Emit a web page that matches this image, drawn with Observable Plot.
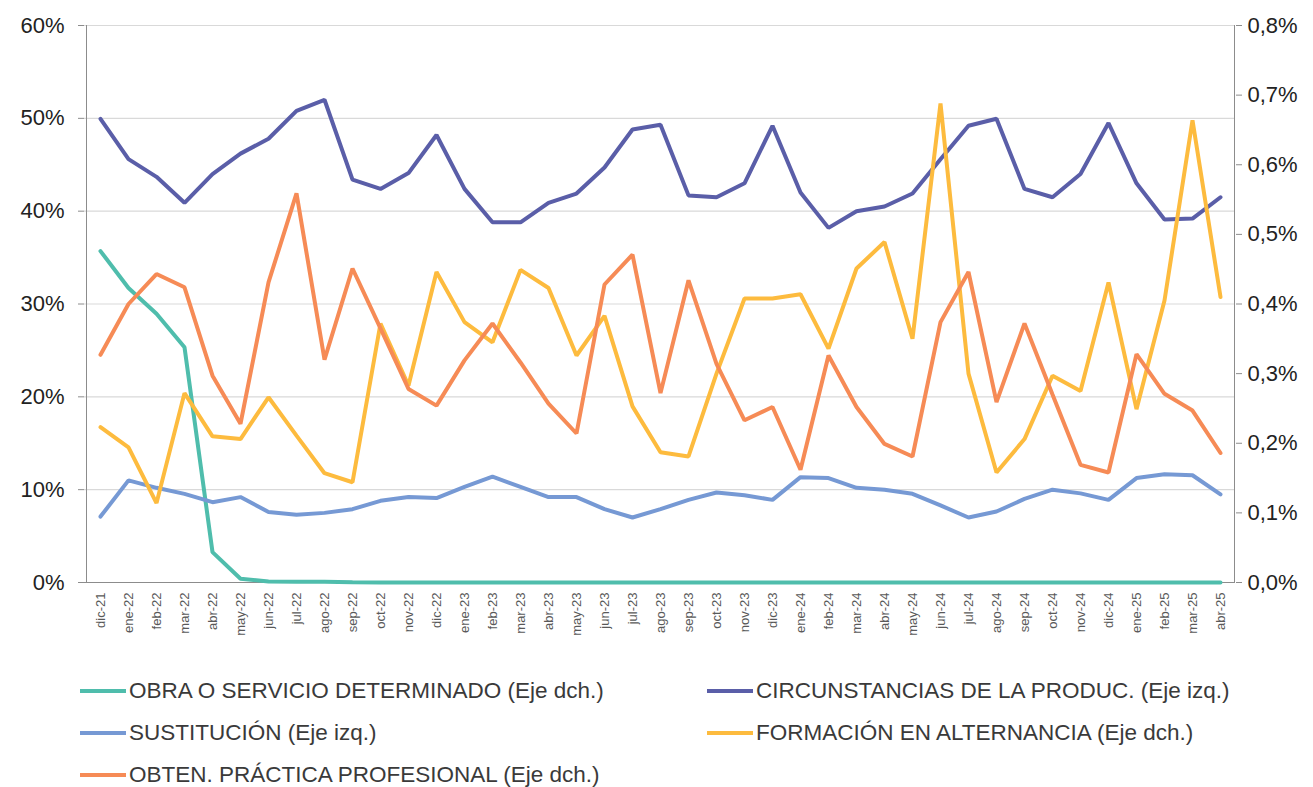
<!DOCTYPE html>
<html>
<head>
<meta charset="utf-8">
<script src="https://cdn.jsdelivr.net/npm/d3@7"></script>
<script src="https://cdn.jsdelivr.net/npm/@observablehq/plot@0.6"></script>
<style>
  body { margin: 0; background: #fff; font-family: "Liberation Sans", Arial, sans-serif; }
  #chart { width: 1313px; }
  .legend { display: grid; grid-template-columns: 627px auto; padding: 20px 0 0 80px; row-gap: 0; }
  .item { display: flex; align-items: center; height: 42px; font-family: "Liberation Sans", Arial, sans-serif; font-size: 22.5px; color: #3a3a3a; white-space: nowrap; }
  .sw { width: 46px; height: 4px; margin-right: 3px; flex: none; }
</style>
</head>
<body>
<div id="chart"></div>
<script>
const months = ["dic-21","ene-22","feb-22","mar-22","abr-22","may-22","jun-22","jul-22","ago-22","sep-22","oct-22","nov-22","dic-22",
"ene-23","feb-23","mar-23","abr-23","may-23","jun-23","jul-23","ago-23","sep-23","oct-23","nov-23","dic-23",
"ene-24","feb-24","mar-24","abr-24","may-24","jun-24","jul-24","ago-24","sep-24","oct-24","nov-24","dic-24",
"ene-25","feb-25","mar-25","abr-25"];

// Left axis (%)
const circunstancias = [49.95,45.6,43.7,40.9,44.0,46.2,47.8,50.8,52.0,43.4,42.4,44.1,48.2,
42.4,38.8,38.8,40.9,41.9,44.7,48.8,49.3,41.7,41.5,43.0,49.2,
42.0,38.2,40.0,40.5,41.9,45.6,49.2,49.95,42.4,41.5,44.0,49.5,
43.0,39.1,39.2,41.5];
const sustitucion = [7.1,11.0,10.2,9.55,8.65,9.2,7.6,7.3,7.5,7.9,8.8,9.2,9.1,
10.3,11.4,10.3,9.2,9.2,7.9,7.0,7.9,8.9,9.7,9.4,8.9,
11.35,11.25,10.2,10.0,9.55,8.3,7.0,7.65,9.0,10.0,9.6,8.9,
11.25,11.65,11.55,9.5];
// Right axis (%)
const obra = [0.476,0.423,0.386,0.338,0.0436,0.0053,0.0015,0.0012,0.001,0.0004,0,0,0,
0,0,0,0,0,0,0,0,0,0,0,0,
0,0,0,0,0,0,0,0,0,0,0,0,
0,0,0,0];
const formacion = [0.223,0.194,0.114,0.272,0.210,0.206,0.266,0.211,0.157,0.144,0.372,0.283,0.446,
0.374,0.345,0.449,0.423,0.326,0.383,0.253,0.187,0.181,0.300,0.408,0.408,
0.414,0.336,0.451,0.489,0.350,0.688,0.300,0.158,0.206,0.297,0.275,0.431,
0.249,0.405,0.664,0.410];
const practica = [0.327,0.400,0.443,0.424,0.297,0.228,0.431,0.559,0.320,0.451,0.365,0.278,0.254,
0.319,0.372,0.316,0.257,0.214,0.428,0.471,0.272,0.434,0.314,0.233,0.252,
0.162,0.326,0.252,0.199,0.181,0.374,0.446,0.259,0.372,0.270,0.169,0.158,
0.328,0.271,0.247,0.186];

const leftTicks = [0,10,20,30,40,50,60];
const rightTicks = [0,0.1,0.2,0.3,0.4,0.5,0.6,0.7,0.8];

const series = [
  {name: "OBRA O SERVICIO DETERMINADO (Eje dch.)", values: obra, axis: "right", color: "#4fbdac"},
  {name: "CIRCUNSTANCIAS DE LA PRODUC. (Eje izq.)", values: circunstancias, axis: "left", color: "#5a5ea8"},
  {name: "SUSTITUCIÓN (Eje izq.)", values: sustitucion, axis: "left", color: "#7699d4"},
  {name: "FORMACIÓN EN ALTERNANCIA (Eje dch.)", values: formacion, axis: "right", color: "#fdbb3e"},
  {name: "OBTEN. PRÁCTICA PROFESIONAL (Eje dch.)", values: practica, axis: "right", color: "#f68b56"}
];
const ratio = 60 / 0.8;
const rows = series.flatMap(s => s.values.map((v, i) => ({
  name: s.name, month: months[i], y: s.axis === "right" ? v * ratio : v
})));

const chart = Plot.plot({
  width: 1313,
  height: 650,
  marginLeft: 84,
  marginRight: 78,
  marginTop: 25,
  marginBottom: 68,
  style: {fontFamily: "'Liberation Sans', Arial, sans-serif", background: "#fff"},
  x: {type: "point", domain: months, padding: 0.5},
  y: {domain: [0, 60]},
  color: {domain: series.map(s => s.name), range: series.map(s => s.color)},
  marks: [
    Plot.gridY(leftTicks.filter(d => d > 0), {stroke: "#d9d9d9", strokeOpacity: 1, strokeWidth: 1.2}),
    Plot.ruleY([0], {stroke: "#8c8c8c"}),
    Plot.axisY(leftTicks, {anchor: "left", tickFormat: d => d + "%", fontSize: 22, tickSize: 6, tickPadding: 14, stroke: "#8c8c8c", color: "#222", label: null}),
    Plot.ruleX([months[0]], {dx: -14, y1: 0, y2: 60, stroke: "#8c8c8c"}),
    Plot.axisY(rightTicks.map(t => t * ratio), {anchor: "right", tickFormat: d => (d / ratio).toFixed(1).replace(".", ",") + "%", fontSize: 22, tickSize: 6, tickPadding: 6, stroke: "#8c8c8c", color: "#222", label: null}),
    Plot.ruleX([months[months.length - 1]], {dx: 14, y1: 0, y2: 60, stroke: "#8c8c8c"}),
    Plot.axisX({tickRotate: -90, tickSize: 0, tickPadding: 10, fontSize: 13, color: "#595959", label: null}),
    Plot.line(rows, {x: "month", y: "y", z: "name", stroke: "name", strokeWidth: 4, strokeLinejoin: "miter", strokeLinecap: "round"})
  ]
});
document.getElementById("chart").appendChild(chart);

const legend = document.createElement("div");
legend.className = "legend";
for (const s of series) {
  const item = document.createElement("div");
  item.className = "item";
  const sw = document.createElement("span");
  sw.className = "sw";
  sw.style.background = s.color;
  item.appendChild(sw);
  item.appendChild(document.createTextNode(s.name));
  legend.appendChild(item);
}
document.getElementById("chart").appendChild(legend);
</script>
</body>
</html>
